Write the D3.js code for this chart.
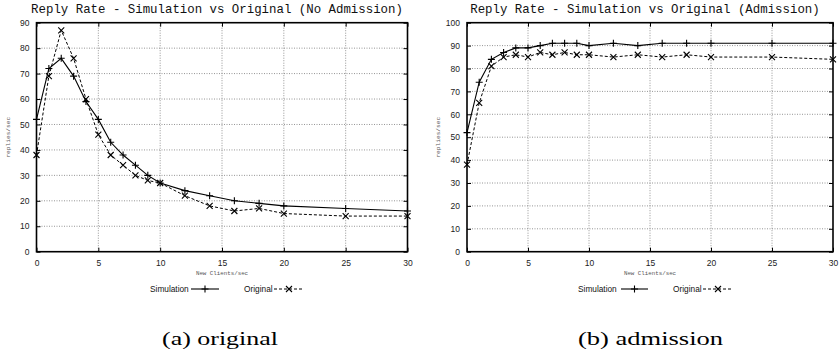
<!DOCTYPE html>
<html>
<head>
<meta charset="utf-8">
<script src="https://cdn.jsdelivr.net/npm/d3@7"></script>
<style>
  body { margin: 0; background: #fff; }
  svg { display: block; }
</style>
</head>
<body>
<div id="chart"></div>
<script>
// new clients per second (x values, same for every series)
const clients = [0, 1, 2, 3, 4, 5, 6, 7, 8, 9, 10, 12, 14, 16, 18, 20, 25, 30];

// (a) no admission control
const simNoAdm  = [52, 72, 76, 69, 59, 52, 43, 38, 34, 30, 27, 24, 22, 20, 19, 18, 17, 16];
const origNoAdm = [38, 69, 87, 76, 60, 46, 38, 34, 30, 28, 27, 22, 18, 16, 17, 15, 14, 14];

// (b) admission control
const simAdm  = [52, 74, 84, 87, 89, 89, 90, 91, 91, 91, 90, 91, 90, 91, 91, 91, 91, 91];
const origAdm = [38, 65, 81, 85, 86, 85, 87, 86, 87, 86, 86, 85, 86, 85, 86, 85, 85, 84];

const xTicks = [0, 5, 10, 15, 20, 25, 30];
const yTicksA = [0, 10, 20, 30, 40, 50, 60, 70, 80, 90];
const yTicksB = [0, 10, 20, 30, 40, 50, 60, 70, 80, 90, 100];

const seriesNames = ["Simulation", "Original"];

const W = 839, H = 356;
const svg = d3.select("#chart").append("svg")
  .attr("width", W).attr("height", H);

const plusPath = "M-3.5,0H3.5M0,-3.5V3.5";
const crossPath = "M-3,-3L3,3M-3,3L3,-3";

function panel(opt) {
  let x = d3.scaleLinear().domain([0, 30]).range([opt.left, opt.right]);
  let y = d3.scaleLinear().domain([0, opt.yMax]).range([opt.bottom, opt.top]);
  let g = svg.append("g");

  // grid
  g.append("g").selectAll("line").data(xTicks.slice(1, -1)).enter().append("line")
    .attr("x1", d => x(d)).attr("x2", d => x(d))
    .attr("y1", opt.top).attr("y2", opt.bottom)
    .attr("stroke", "#7a7a7a").attr("stroke-width", 0.8).attr("stroke-dasharray", "1,1.5");
  g.append("g").selectAll("line").data(opt.yTicks.slice(1, -1)).enter().append("line")
    .attr("y1", d => y(d)).attr("y2", d => y(d))
    .attr("x1", opt.left).attr("x2", opt.right)
    .attr("stroke", "#7a7a7a").attr("stroke-width", 0.8).attr("stroke-dasharray", "1,1.5");

  // axes with inward ticks (mirrored on all sides)
  let ax = d3.axisBottom(x).tickValues(xTicks).tickSize(-4).tickPadding(8);
  let axTop = d3.axisTop(x).tickValues(xTicks).tickSize(-4).tickFormat("");
  let ay = d3.axisLeft(y).tickValues(opt.yTicks).tickSize(-4).tickPadding(7);
  let ayRight = d3.axisRight(y).tickValues(opt.yTicks).tickSize(-4).tickFormat("");

  let axes = [
    g.append("g").attr("transform", "translate(0," + opt.bottom + ")").call(ax),
    g.append("g").attr("transform", "translate(0," + opt.top + ")").call(axTop),
    g.append("g").attr("transform", "translate(" + opt.left + ",0)").call(ay),
    g.append("g").attr("transform", "translate(" + opt.right + ",0)").call(ayRight)
  ];
  axes.forEach(a => {
    a.select(".domain").remove();
    a.selectAll("line").attr("stroke", "#000").attr("stroke-width", 1);
    a.selectAll("text").attr("font-family", "'Liberation Sans', Arial, sans-serif")
      .attr("font-size", "8.5px").attr("fill", "#222");
  });

  // frame
  g.append("rect")
    .attr("x", opt.left).attr("y", opt.top)
    .attr("width", opt.right - opt.left).attr("height", opt.bottom - opt.top)
    .attr("fill", "none").attr("stroke", "#000").attr("stroke-width", 1.6);

  let line = d3.line().x((d, i) => x(clients[i])).y(d => y(d));

  // simulation
  g.append("path").datum(opt.sim).attr("d", line)
    .attr("fill", "none").attr("stroke", "#000").attr("stroke-width", 1.1);
  g.append("g").selectAll("path").data(opt.sim).enter().append("path")
    .attr("transform", (d, i) => "translate(" + x(clients[i]) + "," + y(d) + ")")
    .attr("d", plusPath).attr("stroke", "#000").attr("stroke-width", 1.1);

  // original
  g.append("path").datum(opt.orig).attr("d", line)
    .attr("fill", "none").attr("stroke", "#000").attr("stroke-width", 1)
    .attr("stroke-dasharray", "3,2");
  g.append("g").selectAll("path").data(opt.orig).enter().append("path")
    .attr("transform", (d, i) => "translate(" + x(clients[i]) + "," + y(d) + ")")
    .attr("d", crossPath).attr("stroke", "#000").attr("stroke-width", 1.1);

  // title
  svg.append("text").text(opt.title)
    .attr("x", (opt.left + opt.right) / 2 - 5).attr("y", 13)
    .attr("text-anchor", "middle")
    .attr("font-family", "'Liberation Mono', 'Courier New', monospace")
    .attr("font-size", "12.4px").attr("fill", "#111");

  // axis labels
  svg.append("text").text("New Clients/sec")
    .attr("x", (opt.left + opt.right) / 2).attr("y", 275)
    .attr("text-anchor", "middle")
    .attr("font-family", "'Liberation Mono', monospace")
    .attr("font-size", "5.8px").attr("fill", "#555");
  svg.append("text").text("replies/sec")
    .attr("transform", "translate(" + (opt.left - 27) + "," + ((opt.top + opt.bottom) / 2) + ") rotate(-90)")
    .attr("text-anchor", "middle")
    .attr("font-family", "'Liberation Mono', monospace")
    .attr("font-size", "6.2px").attr("fill", "#555");

  // legend
  let lg = svg.append("g").attr("font-family", "'Liberation Sans', Arial, sans-serif")
    .attr("font-size", "8.3px").attr("fill", "#111");
  let ly = 289;
  lg.append("text").text(seriesNames[0]).attr("x", opt.leg[0]).attr("y", ly + 3);
  lg.append("line").attr("x1", opt.leg[1]).attr("x2", opt.leg[2]).attr("y1", ly).attr("y2", ly)
    .attr("stroke", "#000").attr("stroke-width", 1.1);
  lg.append("path").attr("transform", "translate(" + ((opt.leg[1] + opt.leg[2]) / 2) + "," + ly + ")")
    .attr("d", plusPath).attr("stroke", "#000").attr("stroke-width", 1.1);
  lg.append("text").text(seriesNames[1]).attr("x", opt.leg[3]).attr("y", ly + 3);
  lg.append("line").attr("x1", opt.leg[4]).attr("x2", opt.leg[5]).attr("y1", ly).attr("y2", ly)
    .attr("stroke", "#000").attr("stroke-width", 1).attr("stroke-dasharray", "3,2");
  lg.append("path").attr("transform", "translate(" + ((opt.leg[4] + opt.leg[5]) / 2) + "," + ly + ")")
    .attr("d", crossPath).attr("stroke", "#000").attr("stroke-width", 1.1);

  // caption
  svg.append("text").text(opt.caption)
    .attr("x", opt.capX).attr("y", 345)
    .attr("font-family", "'Liberation Serif', 'Times New Roman', serif")
    .attr("font-size", "19px").attr("fill", "#000")
    .attr("textLength", opt.capW).attr("lengthAdjust", "spacingAndGlyphs");
}

panel({
  left: 36.5, right: 407.5, top: 22.7, bottom: 251.7, yMax: 90, yTicks: yTicksA,
  sim: simNoAdm, orig: origNoAdm,
  title: "Reply Rate - Simulation vs Original (No Admission)",
  leg: [150, 191, 219, 244, 274, 304],
  caption: "(a) original", capX: 162, capW: 116
});

panel({
  left: 467, right: 833, top: 22.7, bottom: 251.7, yMax: 100, yTicks: yTicksB,
  sim: simAdm, orig: origAdm,
  title: "Reply Rate - Simulation vs Original (Admission)",
  leg: [578, 621, 648, 673, 703, 733],
  caption: "(b) admission", capX: 578, capW: 145
});
</script>
</body>
</html>
